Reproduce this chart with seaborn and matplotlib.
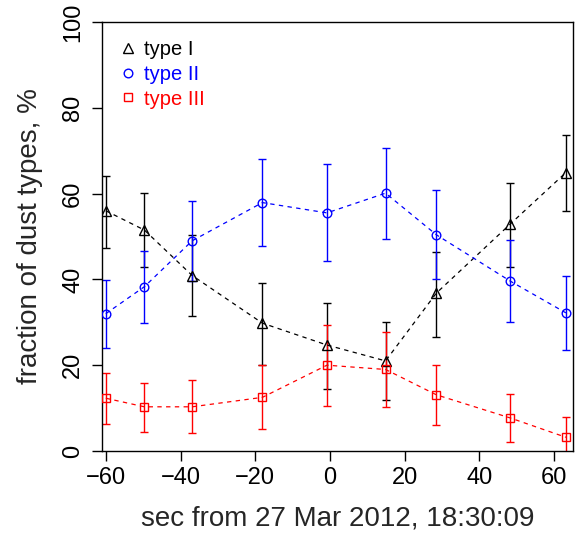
import matplotlib
matplotlib.use("Agg")
import matplotlib.pyplot as plt
from matplotlib.lines import Line2D
import seaborn as sns
import pandas as pd

# ---- data ----
sec = [-60.05, -49.7, -36.9, -18.1, -0.8, 14.9, 28.5, 48.3, 63.2]

type1 = [56.0, 51.5, 40.9, 29.8, 24.7, 21.0, 36.8, 52.9, 64.9]
type1_hi = [64.2, 60.2, 50.3, 39.1, 34.5, 30.0, 46.4, 62.5, 73.7]
type1_lo = [47.2, 42.9, 31.5, 20.0, 14.5, 12.0, 26.6, 43.0, 55.9]

type2 = [32.0, 38.3, 49.0, 57.9, 55.5, 60.1, 50.4, 39.6, 32.2]
type2_hi = [39.9, 46.7, 58.3, 68.1, 66.8, 70.7, 60.8, 49.2, 40.9]
type2_lo = [23.9, 29.8, 39.6, 47.8, 44.3, 49.4, 40.2, 30.1, 23.5]

type3 = [12.3, 10.3, 10.3, 12.5, 20.0, 19.0, 13.1, 7.7, 3.2]
type3_hi = [18.2, 15.9, 16.6, 20.0, 29.4, 27.7, 20.0, 13.2, 8.0]
type3_lo = [6.3, 4.5, 4.1, 5.1, 10.6, 10.3, 6.0, 2.1, -1.6]

labels = ["type I", "type II", "type III"]
colors = ["black", "blue", "red"]
markers = ["^", "o", "s"]
msizes = [7.8, 6.2, 6.0]
xticks = [-60, -40, -20, 0, 20, 40, 60]
yticks = [0, 20, 40, 60, 80, 100]

sns.set_style("ticks")
plt.rcParams["font.family"] = ["Liberation Sans", "DejaVu Sans"]

fig = plt.figure(figsize=(5.82, 5.36), dpi=100)
ax = fig.add_axes([0.1750, 0.1586, 0.8095, 0.8004])

series = [(type1, type1_hi, type1_lo), (type2, type2_hi, type2_lo), (type3, type3_hi, type3_lo)]
for (y, hi, lo), lab, col, mk, ms in zip(series, labels, colors, markers, msizes):
    df = pd.DataFrame({"sec": sec, "val": y})
    err = [[v - l for v, l in zip(y, lo)], [h - v for v, h in zip(y, hi)]]
    ax.errorbar(sec, y, yerr=err, fmt="none", ecolor=col, elinewidth=1.0,
                capsize=3.0, capthick=1.0, zorder=2)
    sns.lineplot(data=df, x="sec", y="val", ax=ax, color=col, linestyle=(0, (3.5, 3.5)),
                 linewidth=0.9, marker=mk, markersize=ms,
                 markerfacecolor="none", markeredgecolor=col, markeredgewidth=1.0,
                 zorder=3, legend=False)

ax.set_xlim(-61.1, 65.1)
ax.set_ylim(0, 100)
ax.set_xticks(xticks)
ax.set_yticks(yticks)
ax.set_xticklabels([str(t).replace("-", "\u2212") for t in xticks])
ax.set_yticklabels([str(t) for t in yticks], rotation=90, va="center")
ax.tick_params(axis="both", direction="out", length=7.2, width=1.0, labelsize=17,
               color="black", labelcolor="black")
ax.tick_params(axis="x", pad=4.5)
ax.tick_params(axis="y", pad=5.5)
for sp in ax.spines.values():
    sp.set_visible(True)
    sp.set_linewidth(1.0)
    sp.set_color("black")

ax.set_xlabel("sec from 27 Mar 2012, 18:30:09", fontsize=20, labelpad=12)
ax.set_ylabel("fraction of dust types, %", fontsize=20, labelpad=14)

handles = [Line2D([], [], linestyle="none", marker=m, markersize=s,
                  markerfacecolor="none", markeredgecolor=c, markeredgewidth=1.0)
           for m, c, s in zip(markers, colors, msizes)]
leg = ax.legend(handles, labels, loc="upper left", bbox_to_anchor=(0.0, 0.995),
                frameon=False, fontsize=14.5, handlelength=1.0, handletextpad=0.3,
                labelspacing=0.28, borderaxespad=0.4)
for t, c in zip(leg.get_texts(), colors):
    t.set_color(c)

fig.savefig("out.png", dpi=100)
